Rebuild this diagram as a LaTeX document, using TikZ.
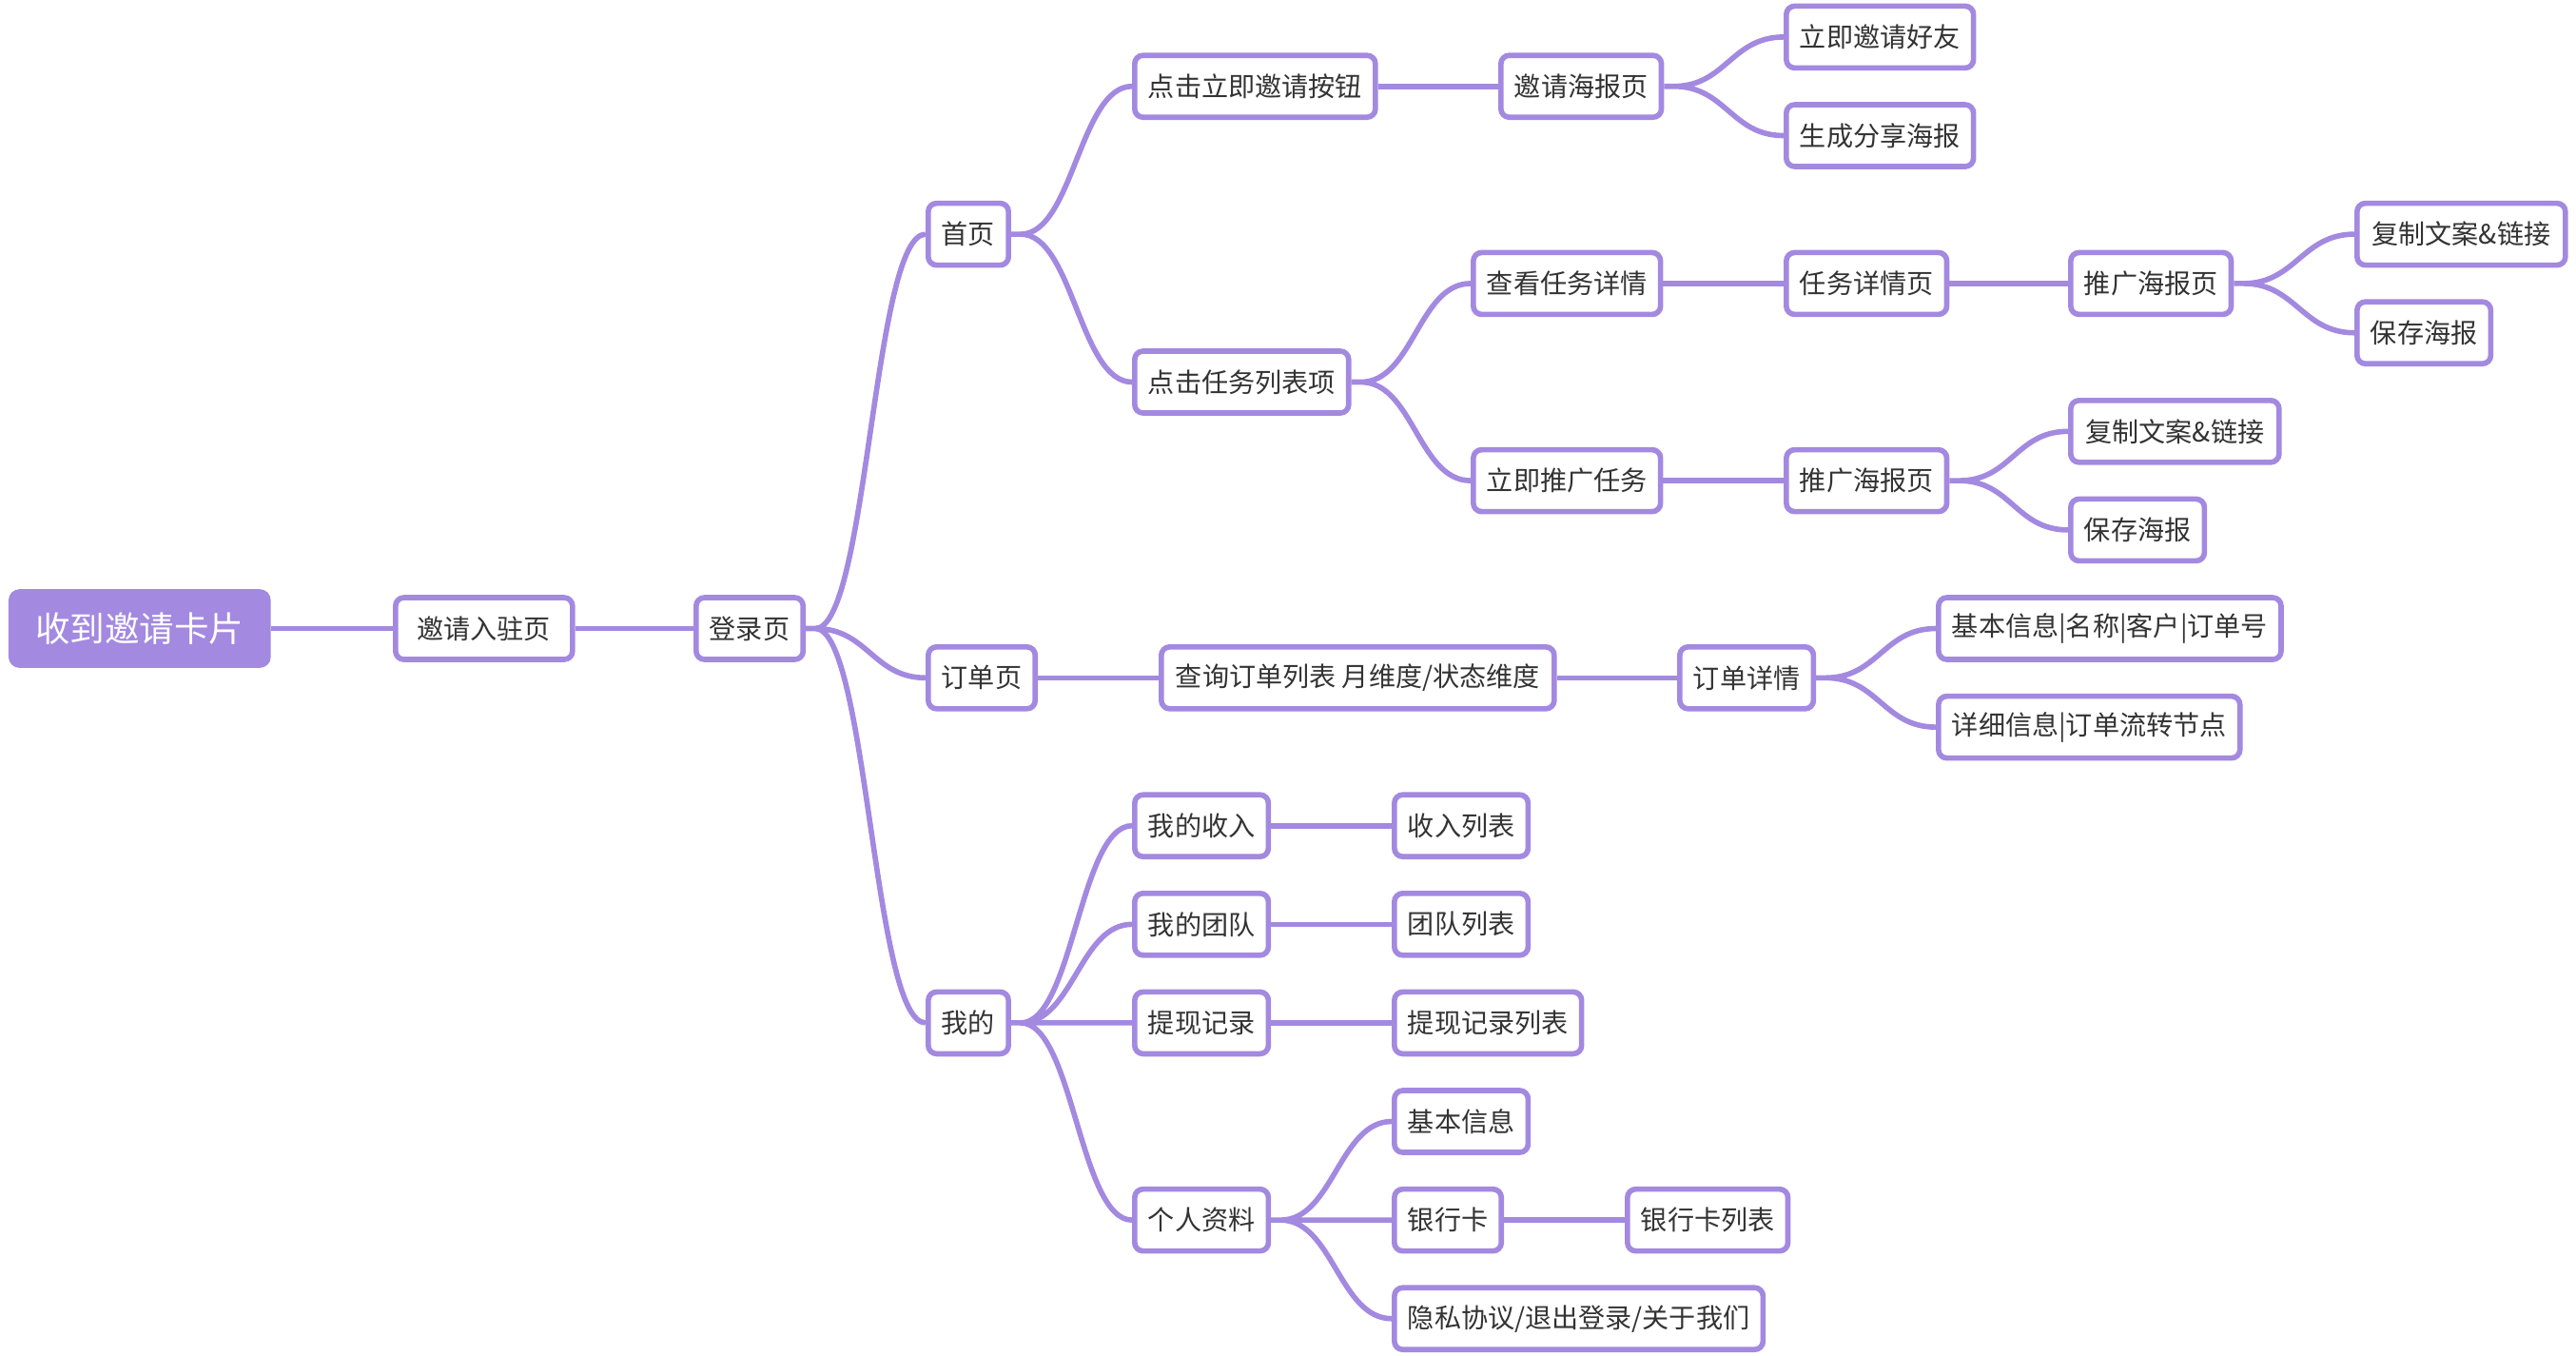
\documentclass[tikz,border=0pt]{standalone}
\usepackage{fontspec}
\usepackage{xcolor}
\usepackage{tikz}
\newfontfamily\cjkfont{Noto Sans CJK SC}
\definecolor{mindline}{HTML}{A389E0}
\definecolor{mindtext}{HTML}{333333}

\begin{document}
\begin{tikzpicture}[x=1cm, y=-0.518cm,
    topic/.style={draw=mindline, line width=1.6pt, rounded corners=2.5pt, fill=white,
      text=mindtext, font=\cjkfont\fontsize{8pt}{10pt}\selectfont,
      inner xsep=4pt, inner ysep=0pt, minimum height=0.65cm, anchor=west},
    central/.style={topic, fill=mindline, text=white, font=\cjkfont\fontsize{10.4pt}{12pt}\selectfont,
      minimum width=2.70cm, minimum height=0.77cm},
    link/.style={draw=mindline, line width=1.6pt},
    branch/.style={to path={-- ++(0.1,0) .. controls +(0.55,0) and +(-0.55,0) .. (\tikztotarget)}}]
  \useasboundingbox (0,-0.751) rectangle (27.08,26.74);

  \node[central] (card) at (0.09,12) {收到邀请卡片};
  \node[topic, minimum width=1.86cm] (entry) at (4.13,12) {邀请入驻页};
  \node[topic] (login) at (7.29,12) {登录页};

  \node[topic] (home) at (9.73,4) {首页};
  \node[topic] (orders) at (9.73,13) {订单页};
  \node[topic] (mine) at (9.73,20) {我的};

  \node[topic] (clickinvite) at (11.90,1) {点击立即邀请按钮};
  \node[topic] (clicktask) at (11.90,7) {点击任务列表项};
  \node[topic, minimum width=4.13cm] (query) at (12.18,13) {查询订单列表 月维度/状态维度};
  \node[topic] (income) at (11.90,16) {我的收入};
  \node[topic] (team) at (11.90,18) {我的团队};
  \node[topic] (withdraw) at (11.90,20) {提现记录};
  \node[topic] (profile) at (11.90,24) {个人资料};

  \node[topic] (invposter) at (15.75,1) {邀请海报页};
  \node[topic] (viewtask) at (15.46,5) {查看任务详情};
  \node[topic] (promote) at (15.46,9) {立即推广任务};
  \node[topic] (orderdetail) at (17.63,13) {订单详情};
  \node[topic] (incomelist) at (14.63,16) {收入列表};
  \node[topic] (teamlist) at (14.63,18) {团队列表};
  \node[topic] (withdrawlist) at (14.63,20) {提现记录列表};
  \node[topic] (basicinfo) at (14.63,22) {基本信息};
  \node[topic] (bankcard) at (14.63,24) {银行卡};
  \node[topic] (privacy) at (14.63,26) {隐私协议/退出登录/关于我们};

  \node[topic] (invfriend) at (18.75,0) {立即邀请好友};
  \node[topic] (genposter) at (18.75,2) {生成分享海报};
  \node[topic] (taskpage) at (18.75,5) {任务详情页};
  \node[topic] (promposterb) at (18.75,9) {推广海报页};
  \node[topic] (orderbasic) at (20.35,12) {基本信息|名称|客户|订单号};
  \node[topic] (orderflow) at (20.35,14) {详细信息|订单流转节点};
  \node[topic] (banklist) at (17.08,24) {银行卡列表};

  \node[topic] (prompostera) at (21.74,5) {推广海报页};
  \node[topic, minimum width=2.19cm] (copyb) at (21.74,8) {复制文案\&链接};
  \node[topic] (saveb) at (21.74,10) {保存海报};
  \node[topic, minimum width=2.19cm] (copya) at (24.75,4) {复制文案\&链接};
  \node[topic] (savea) at (24.75,6) {保存海报};

  \draw[link] (card.east) to[branch] (entry.west);
  \draw[link] (entry.east) to[branch] (login.west);
  \draw[link] (login.east) to[branch] (home.west) (login.east) to[branch] (orders.west)
    (login.east) to[branch] (mine.west);
  \draw[link] (home.east) to[branch] (clickinvite.west) (home.east) to[branch] (clicktask.west);
  \draw[link] (clickinvite.east) to[branch] (invposter.west);
  \draw[link] (invposter.east) to[branch] (invfriend.west) (invposter.east) to[branch] (genposter.west);
  \draw[link] (clicktask.east) to[branch] (viewtask.west) (clicktask.east) to[branch] (promote.west);
  \draw[link] (viewtask.east) to[branch] (taskpage.west);
  \draw[link] (taskpage.east) to[branch] (prompostera.west);
  \draw[link] (prompostera.east) to[branch] (copya.west) (prompostera.east) to[branch] (savea.west);
  \draw[link] (promote.east) to[branch] (promposterb.west);
  \draw[link] (promposterb.east) to[branch] (copyb.west) (promposterb.east) to[branch] (saveb.west);
  \draw[link] (orders.east) to[branch] (query.west);
  \draw[link] (query.east) to[branch] (orderdetail.west);
  \draw[link] (orderdetail.east) to[branch] (orderbasic.west) (orderdetail.east) to[branch] (orderflow.west);
  \draw[link] (mine.east) to[branch] (income.west) (mine.east) to[branch] (team.west)
    (mine.east) to[branch] (withdraw.west) (mine.east) to[branch] (profile.west);
  \draw[link] (income.east) to[branch] (incomelist.west);
  \draw[link] (team.east) to[branch] (teamlist.west);
  \draw[link] (withdraw.east) to[branch] (withdrawlist.west);
  \draw[link] (profile.east) to[branch] (basicinfo.west) (profile.east) to[branch] (bankcard.west)
    (profile.east) to[branch] (privacy.west);
  \draw[link] (bankcard.east) to[branch] (banklist.west);
\end{tikzpicture}
\end{document}
